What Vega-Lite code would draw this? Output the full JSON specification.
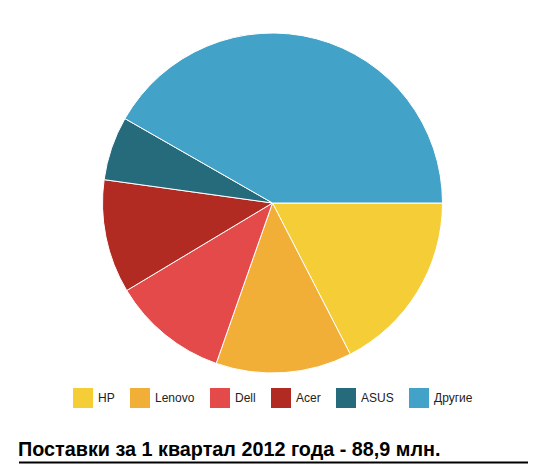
{
  "$schema": "https://vega.github.io/schema/vega-lite/v6.json",
  "background": "white",
  "padding": {"left": 18, "top": 31, "right": 0, "bottom": 0},
  "spacing": 31,
  "config": {"view": {"stroke": null}, "font": "Liberation Sans", "legend": {"layout": {"bottom": {"anchor": "middle"}}}},
  "resolve": {"legend": {"color": "independent"}},
  "vconcat": [
    {
      "width": 507,
      "height": 340,
      "data": {"values": [
        {"vendor": "HP", "shipments": 15.5, "o": 1},
        {"vendor": "Lenovo", "shipments": 11.5, "o": 2},
        {"vendor": "Dell", "shipments": 9.8, "o": 3},
        {"vendor": "Acer", "shipments": 9.6, "o": 4},
        {"vendor": "ASUS", "shipments": 5.4, "o": 5},
        {"vendor": "Другие", "shipments": 37.1, "o": 6}
      ]},
      "mark": {"type": "arc", "outerRadius": 170, "stroke": "white", "strokeWidth": 1},
      "encoding": {
        "theta": {"field": "shipments", "type": "quantitative", "stack": true, "scale": {"range": [1.5708, 7.854]}},
        "order": {"field": "o", "type": "quantitative"},
        "color": {
          "field": "vendor",
          "type": "nominal",
          "sort": null,
          "scale": {
            "domain": ["HP", "Lenovo", "Dell", "Acer", "ASUS", "Другие"],
            "range": ["#F5CE37", "#F2AF37", "#E54A4A", "#B12B23", "#266B7B", "#43A2C8"]
          },
          "legend": {
            "title": null,
            "orient": "bottom",
            "direction": "horizontal",
            "offset": 15,
            "symbolType": "square",
            "symbolSize": 400,
            "symbolStrokeWidth": 0,
            "labelFontSize": 12,
            "labelColor": "#222",
            "labelOffset": 5,
            "columnPadding": 15,
            "labelFont": "Liberation Sans"
          }
        }
      }
    },
    {
      "width": 509,
      "height": 1,
      "title": {
        "text": "Поставки за 1 квартал 2012 года - 88,9 млн.",
        "orient": "top",
        "anchor": "start",
        "fontSize": 19.8,
        "fontWeight": "bold",
        "font": "Liberation Sans",
        "color": "black",
        "offset": 2
      },
      "data": {"values": [{"a": 0, "b": 1}]},
      "mark": {"type": "rule", "color": "black", "strokeWidth": 2},
      "encoding": {
        "x": {"field": "a", "type": "quantitative", "scale": {"domain": [0, 1]}, "axis": null},
        "x2": {"field": "b"}
      }
    }
  ]
}
